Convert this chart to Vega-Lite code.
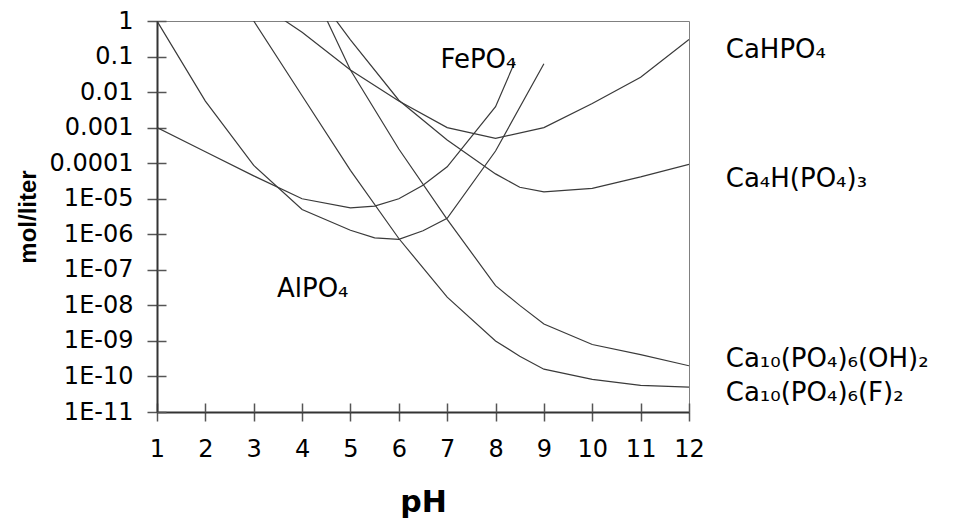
{
  "$schema": "https://vega.github.io/schema/vega-lite/v6.json",
  "width": 532,
  "height": 391,
  "autosize": {"type": "none"},
  "padding": {"left": 157, "top": 21, "right": 290, "bottom": 117},
  "background": "white",
  "view": {"stroke": "#808080", "strokeWidth": 1},
  "config": {"font": "DejaVu Sans"},
  "datasets": {
    "curves": [
      {"series": "AlPO4", "pH": 1, "c": 1},
      {"series": "AlPO4", "pH": 2, "c": 0.0056},
      {"series": "AlPO4", "pH": 3, "c": 8.7e-5},
      {"series": "AlPO4", "pH": 4, "c": 5.0e-6},
      {"series": "AlPO4", "pH": 5, "c": 1.3e-6},
      {"series": "AlPO4", "pH": 5.5, "c": 7.9e-7},
      {"series": "AlPO4", "pH": 6, "c": 7.2e-7},
      {"series": "AlPO4", "pH": 6.5, "c": 1.26e-6},
      {"series": "AlPO4", "pH": 7, "c": 2.8e-6},
      {"series": "AlPO4", "pH": 8, "c": 2.2e-4},
      {"series": "AlPO4", "pH": 9, "c": 0.063},
      {"series": "FePO4", "pH": 1, "c": 0.001},
      {"series": "FePO4", "pH": 2, "c": 2.1e-4},
      {"series": "FePO4", "pH": 3, "c": 4.4e-5},
      {"series": "FePO4", "pH": 4, "c": 1.0e-5},
      {"series": "FePO4", "pH": 5, "c": 5.5e-6},
      {"series": "FePO4", "pH": 5.5, "c": 6.2e-6},
      {"series": "FePO4", "pH": 6, "c": 1.0e-5},
      {"series": "FePO4", "pH": 6.5, "c": 2.4e-5},
      {"series": "FePO4", "pH": 7, "c": 7.9e-5},
      {"series": "FePO4", "pH": 8, "c": 0.0039},
      {"series": "FePO4", "pH": 8.4, "c": 0.071},
      {"series": "Ca10(PO4)6(OH)2", "pH": 4, "c": 31.6},
      {"series": "Ca10(PO4)6(OH)2", "pH": 5, "c": 0.0417},
      {"series": "Ca10(PO4)6(OH)2", "pH": 6, "c": 2.5e-4},
      {"series": "Ca10(PO4)6(OH)2", "pH": 7, "c": 2.63e-6},
      {"series": "Ca10(PO4)6(OH)2", "pH": 8, "c": 3.6e-8},
      {"series": "Ca10(PO4)6(OH)2", "pH": 8.5, "c": 1.0e-8},
      {"series": "Ca10(PO4)6(OH)2", "pH": 9, "c": 3.0e-9},
      {"series": "Ca10(PO4)6(OH)2", "pH": 10, "c": 7.9e-10},
      {"series": "Ca10(PO4)6(OH)2", "pH": 11, "c": 4.1e-10},
      {"series": "Ca10(PO4)6(OH)2", "pH": 12, "c": 2.0e-10},
      {"series": "Ca10(PO4)6(F)2", "pH": 3, "c": 1},
      {"series": "Ca10(PO4)6(F)2", "pH": 4, "c": 0.0079},
      {"series": "Ca10(PO4)6(F)2", "pH": 5, "c": 6.3e-5},
      {"series": "Ca10(PO4)6(F)2", "pH": 6, "c": 7.6e-7},
      {"series": "Ca10(PO4)6(F)2", "pH": 7, "c": 1.7e-8},
      {"series": "Ca10(PO4)6(F)2", "pH": 8, "c": 1.0e-9},
      {"series": "Ca10(PO4)6(F)2", "pH": 8.5, "c": 3.7e-10},
      {"series": "Ca10(PO4)6(F)2", "pH": 9, "c": 1.6e-10},
      {"series": "Ca10(PO4)6(F)2", "pH": 10, "c": 8.3e-11},
      {"series": "Ca10(PO4)6(F)2", "pH": 11, "c": 5.6e-11},
      {"series": "Ca10(PO4)6(F)2", "pH": 12, "c": 5.0e-11},
      {"series": "CaHPO4", "pH": 3, "c": 4.0},
      {"series": "CaHPO4", "pH": 4, "c": 0.48},
      {"series": "CaHPO4", "pH": 5, "c": 0.0417},
      {"series": "CaHPO4", "pH": 6, "c": 0.0056},
      {"series": "CaHPO4", "pH": 7, "c": 0.001},
      {"series": "CaHPO4", "pH": 8, "c": 5.0e-4},
      {"series": "CaHPO4", "pH": 9, "c": 0.001},
      {"series": "CaHPO4", "pH": 10, "c": 0.0048},
      {"series": "CaHPO4", "pH": 11, "c": 0.026},
      {"series": "CaHPO4", "pH": 12, "c": 0.30},
      {"series": "Ca4H(PO4)3", "pH": 4, "c": 20},
      {"series": "Ca4H(PO4)3", "pH": 5, "c": 0.295},
      {"series": "Ca4H(PO4)3", "pH": 6, "c": 0.0059},
      {"series": "Ca4H(PO4)3", "pH": 7, "c": 4.5e-4},
      {"series": "Ca4H(PO4)3", "pH": 8, "c": 5.0e-5},
      {"series": "Ca4H(PO4)3", "pH": 8.5, "c": 2.1e-5},
      {"series": "Ca4H(PO4)3", "pH": 9, "c": 1.55e-5},
      {"series": "Ca4H(PO4)3", "pH": 10, "c": 1.95e-5},
      {"series": "Ca4H(PO4)3", "pH": 11, "c": 4.1e-5},
      {"series": "Ca4H(PO4)3", "pH": 12, "c": 9.3e-5}
    ],
    "labels": [
      {"label": "CaHPO₄", "pH": 12.76, "c": 0.089},
      {"label": "Ca₄H(PO₄)₃", "pH": 12.76, "c": 2.15e-5},
      {"label": "Ca₁₀(PO₄)₆(OH)₂", "pH": 12.76, "c": 1.8e-10},
      {"label": "Ca₁₀(PO₄)₆(F)₂", "pH": 12.76, "c": 2.1e-11},
      {"label": "FePO₄", "pH": 6.86, "c": 0.047},
      {"label": "AlPO₄", "pH": 3.48, "c": 1.7e-8}
    ]
  },
  "layer": [
    {
      "data": {"name": "curves"},
      "mark": {"type": "line", "clip": true, "color": "#3a3a3a", "strokeWidth": 1.2},
      "encoding": {
        "x": {
          "field": "pH", "type": "quantitative",
          "scale": {"domain": [1, 12], "nice": false, "zero": false},
          "axis": {
            "orient": "bottom",
            "values": [1, 2, 3, 4, 5, 6, 7, 8, 9, 10, 11, 12],
            "grid": false, "tickSize": 9, "tickColor": "#555", "tickWidth": 1.5,
            "domainColor": "#333", "domainWidth": 2,
            "labelFont": "DejaVu Sans", "labelFontSize": 24, "labelColor": "#000",
            "labelPadding": 16, "labelFlush": false, "labelOverlap": false,
            "title": "pH", "titleFont": "DejaVu Sans", "titleFontSize": 30,
            "titleFontWeight": "bold", "titleColor": "#000", "titlePadding": 26
          }
        },
        "y": {
          "field": "c", "type": "quantitative",
          "scale": {"type": "log", "domain": [1e-11, 1], "nice": false},
          "axis": {
            "orient": "left",
            "values": [1, 0.1, 0.01, 0.001, 0.0001, 1e-5, 1e-6, 1e-7, 1e-8, 1e-9, 1e-10, 1e-11],
            "labelExpr": "round(-log(datum.value)/LN10) <= 4 ? ['1','0.1','0.01','0.001','0.0001'][round(-log(datum.value)/LN10)] : '1E-' + (round(-log(datum.value)/LN10) < 10 ? '0' : '') + round(-log(datum.value)/LN10)",
            "grid": false, "tickSize": 10, "tickColor": "#555", "tickWidth": 1.5,
            "domainColor": "#333", "domainWidth": 2,
            "labelFont": "DejaVu Sans", "labelFontSize": 24, "labelColor": "#000",
            "labelPadding": 14, "labelFlush": false, "labelOverlap": false,
            "title": "mol/liter", "titleFont": "Liberation Sans", "titleFontSize": 24,
            "titleFontWeight": "bold", "titleColor": "#000", "titlePadding": 9
          }
        },
        "detail": {"field": "series"}
      }
    },
    {
      "data": {"name": "labels"},
      "mark": {"type": "text", "align": "left", "baseline": "alphabetic", "font": "DejaVu Sans", "fontSize": 26, "color": "#000"},
      "encoding": {
        "x": {
          "field": "pH", "type": "quantitative",
          "scale": {"domain": [1, 12], "nice": false, "zero": false},
          "axis": {
            "orient": "top", "offset": -391,
            "values": [1, 2, 3, 4, 5, 6, 7, 8, 9, 10, 11, 12],
            "grid": false, "labels": false, "domain": false, "title": null,
            "tickSize": 9, "tickColor": "#555", "tickWidth": 1.5
          }
        },
        "y": {
          "field": "c", "type": "quantitative",
          "scale": {"type": "log", "domain": [1e-11, 1], "nice": false},
          "axis": {
            "orient": "right", "offset": -532,
            "values": [1, 0.1, 0.01, 0.001, 0.0001, 1e-5, 1e-6, 1e-7, 1e-8, 1e-9, 1e-10, 1e-11],
            "grid": false, "labels": false, "domain": false, "title": null,
            "tickSize": 9, "tickColor": "#555", "tickWidth": 1.5
          }
        },
        "text": {"field": "label"}
      }
    }
  ]
}
